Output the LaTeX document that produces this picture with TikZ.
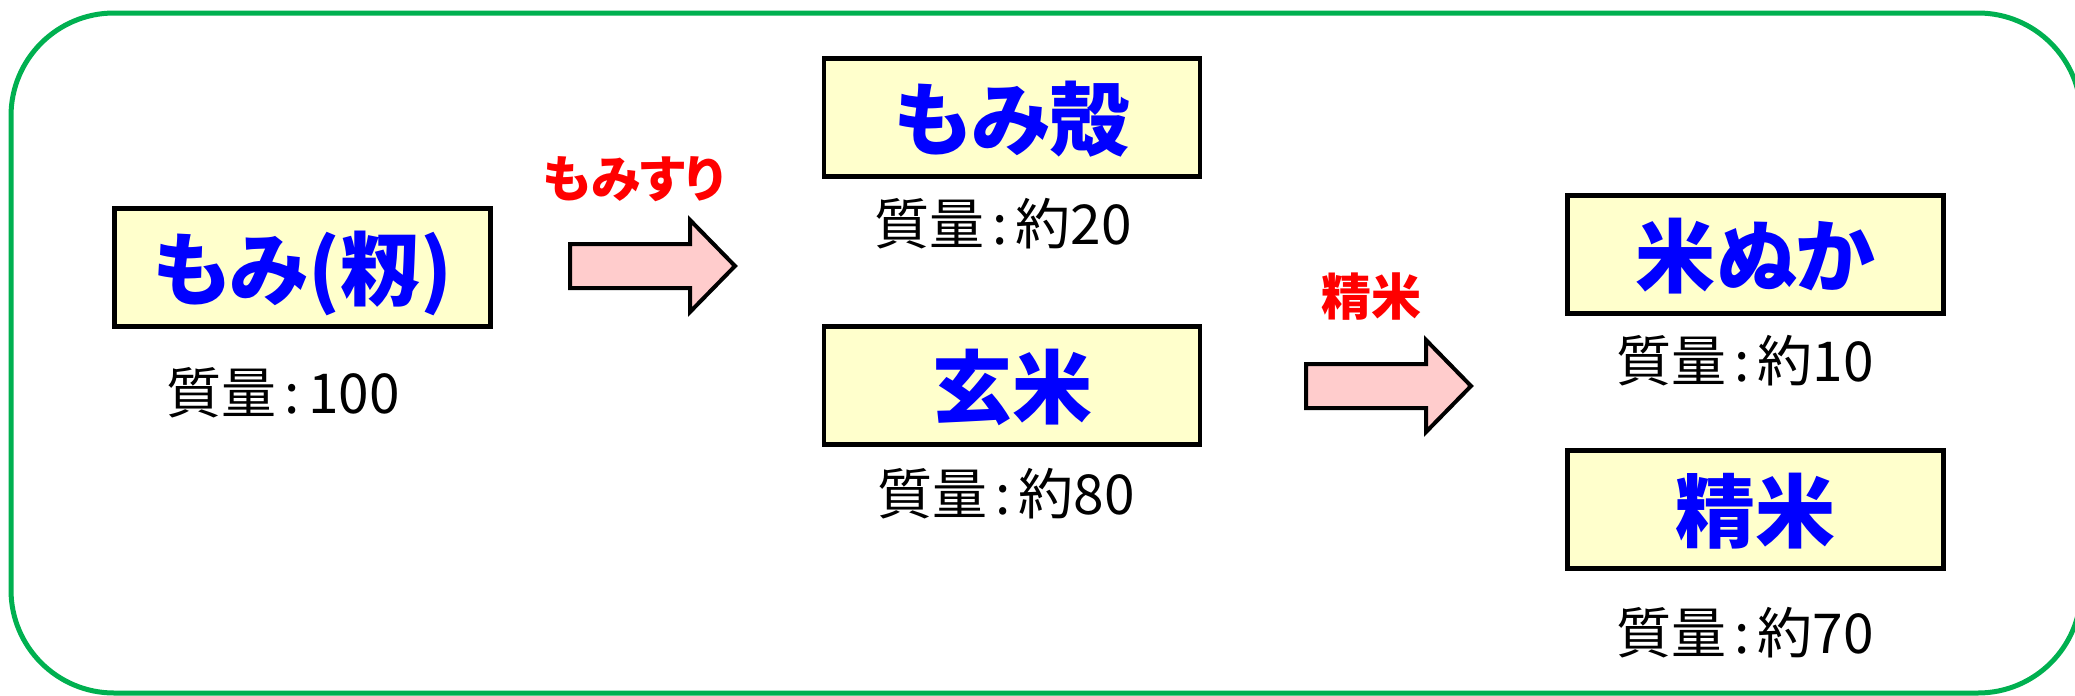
\documentclass[tikz,border=0pt]{standalone}
\usepackage{fontspec}
\setmainfont{Noto Sans CJK JP}[RawFeature=+palt]
\definecolor{framegreen}{RGB}{0,176,80}
\definecolor{boxfill}{RGB}{255,255,204}
\definecolor{arrowfill}{RGB}{255,204,204}
\definecolor{textblue}{RGB}{0,0,255}
\definecolor{textred}{RGB}{255,0,0}
\tikzset{
  itembox/.style={draw=black, line width=4.5pt, fill=boxfill,
    minimum width=376pt, minimum height=118pt,
    text height=64pt, text depth=1pt, inner sep=0pt,
    font=\fontsize{80}{90}\selectfont\bfseries, text=textblue},
  masslabel/.style={anchor=base, inner sep=0pt, text=black,
    font=\fontsize{55}{60}\selectfont},
  proclabel/.style={anchor=base, inner sep=0pt, text=textred,
    font=\fontsize{50}{55}\selectfont\bfseries},
  blockarrow/.pic={
    \draw[line width=4pt, fill=arrowfill, line join=miter]
      (0,-22) -- (120,-22) -- (120,-46) -- (165,0) -- (120,46)
      -- (120,22) -- (0,22) -- cycle;
  }
}
\newcommand{\massline}[1]{質量\hspace{0.15em}:\hspace{0.15em}#1}
\begin{document}
\begin{tikzpicture}[x=1pt,y=-1pt]
\useasboundingbox (0,0) rectangle (2075,696);
% frame
\draw[framegreen, line width=5pt, rounded corners=103pt] (11,13) rectangle (2081,693);
% boxes
\node[itembox] (momi)  at (302.5,267.5) {もみ(籾)};
\node[itembox] (kara)  at (1012,117.5) {もみ殻};
\node[itembox] (genmai) at (1012,385.5) {玄米};
\node[itembox] (nuka)  at (1755.5,254.5) {米ぬか};
\node[itembox] (seimai) at (1755.5,509.5) {精米};
% mass labels
\node[masslabel] (m100) at (283,413) {\massline{100}};
\node[masslabel] (m20)  at (1003,244) {\massline{約20}};
\node[masslabel] (m80)  at (1006,514) {\massline{約80}};
\node[masslabel] (m10)  at (1745,381) {\massline{約10}};
\node[masslabel] (m70)  at (1745,653) {\massline{約70}};
% arrows
\pic at (570,266) {blockarrow};
\pic at (1306,386) {blockarrow};
% process labels
\node[proclabel] (p1) at (634,197) {もみすり};
\node[proclabel] (p2) at (1371,315) {精米};
\end{tikzpicture}
\end{document}
